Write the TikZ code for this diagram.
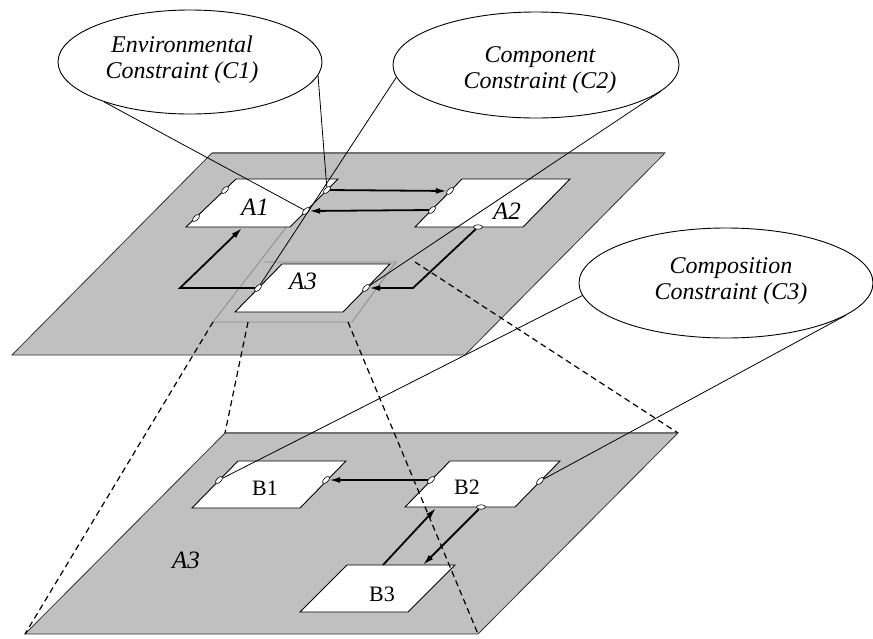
\documentclass[tikz,border=0pt]{standalone}
\usepackage{fontspec}
\setmainfont{Liberation Serif}
\usetikzlibrary{shapes.geometric,arrows.meta}
\definecolor{planegray}{RGB}{192,192,192}
\begin{document}
\begin{tikzpicture}[x=1pt,y=-1pt,
  planeline/.style={draw=black!80,line width=0.8pt},
  pedge/.style={draw=black!55,line width=2.5pt},
  cbox/.style={fill=white,draw=black,line width=0.9pt},
  port/.style={ellipse,draw=black,fill=white,line width=0.6pt,minimum width=9pt,minimum height=4.5pt,inner sep=0pt,rotate=45},
  hport/.style={ellipse,draw=black,fill=white,line width=0.6pt,minimum width=9pt,minimum height=4.5pt,inner sep=0pt},
  flow/.style={line width=1.8pt,-{Latex[length=11pt,width=6pt]}},
  link/.style={line width=0.8pt},
  hid/.style={dash pattern=on 6pt off 4pt,line width=1.2pt},
  cloud/.style={ellipse,draw=black,fill=white,line width=0.9pt,inner sep=0pt},
  ctext/.style={font=\fontsize{24}{26}\selectfont\itshape,align=center,inner sep=0pt},
  alab/.style={font=\fontsize{25}{25}\selectfont\itshape,inner sep=0pt},
  blab/.style={font=\fontsize{22}{22}\selectfont,inner sep=0pt}
]
\useasboundingbox (0,0) rectangle (873,638);
\fill[white] (0,0) rectangle (873,638);

% top plane
\coordinate (TP1) at (212,153); \coordinate (TP2) at (665,153);
\coordinate (TP3) at (465,355); \coordinate (TP4) at (12,355);
\fill[planegray] (TP1)--(TP2)--(TP3)--(TP4)--cycle;
\draw[planeline] (TP1)--(TP2)--(TP3)--(TP4)--cycle;
\draw[pedge] (TP1)--(TP2);

% bottom plane
\coordinate (BP1) at (225,433); \coordinate (BP2) at (678,433);
\coordinate (BP3) at (478,634); \coordinate (BP4) at (25,634);
\fill[planegray] (BP1)--(BP2)--(BP3)--(BP4)--cycle;
\draw[planeline] (BP1)--(BP2)--(BP3)--(BP4)--cycle;
\draw[pedge] (BP1)--(BP2);

% outline of A3 (projection frame)
\coordinate (O1) at (264,262); \coordinate (O2) at (396,262);
\coordinate (O3) at (352,322); \coordinate (O4) at (213,322);
\coordinate (O0) at (298,212);
\draw[black!45,line width=0.8pt] (O0)--(O4)--(O3)--(O2)--(O1);

% boxes
\draw[cbox] (236,179)--(338,179)--(290,227)--(186,227)--cycle;
\draw[cbox] (462,179)--(570,179)--(523,227)--(415,227)--cycle;
\draw[cbox] (282,264)--(390,264)--(343,312)--(235,312)--cycle;
\draw[cbox] (238,461)--(346,461)--(300,508)--(192,508)--cycle;
\draw[cbox] (450,461)--(560,461)--(515,507)--(405,507)--cycle;
\draw[cbox] (347,565)--(455,565)--(408,612)--(300,612)--cycle;

% labels
\node[alab] (la1) at (255,207) {A1};
\node[alab] (la2) at (507,211) {A2};
\node[alab] (la3) at (303,281) {A3};
\node[alab] (la3b) at (186,560) {A3};
\node[blab] (lb1) at (265,488) {B1};
\node[blab] (lb2) at (467,487) {B2};
\node[blab] (lb3) at (382,594) {B3};

% ports
\node[port] (pa1l1) at (225,190) {};
\node[port] (pa1l2) at (196,218) {};
\node[port] (pa1r1) at (327,190) {};
\node[port] (pa1r2) at (306,211) {};
\node[port] (pa2l1) at (450,191) {};
\node[port] (pa2l2) at (432,210) {};
\node[hport] (pa2b) at (478,227) {};
\node[port] (pa3l) at (258,288) {};
\node[port] (pa3r) at (366,288) {};
\node[port] (pb1l) at (219,480) {};
\node[port] (pb1r) at (326,480) {};
\node[port] (pb2l) at (431,480) {};
\node[port] (pb2r) at (540,481) {};
\node[hport] (pb2b) at (481,507) {};

\coordinate (a1b) at (242,228);
\coordinate (k3) at (180,288);
\coordinate (k4) at (413,288);
\coordinate (b2b) at (436,508);
\coordinate (b3a) at (383,565);
\coordinate (b3b) at (423,565);

% flows
\draw[flow] (pa1r1) -- (pa2l1);
\draw[flow] (pa2l2) -- (pa1r2);
\draw[flow] (pa3l) -- (k3) -- (a1b);
\draw[flow] (pa2b) -- (k4) -- (pa3r);
\draw[flow] (pb2l) -- (pb1r);
\draw[flow] (b3a) -- (b2b);
\draw[flow] (pb2b) -- (b3b);

% constraint ellipses
\node[cloud,minimum width=264pt,minimum height=104pt] (C1) at (190,62) {};
\node[ctext] (t1) at (182,60) {Environmental\\Constraint (C1)};
\node[cloud,minimum width=286pt,minimum height=106pt] (C2) at (536,65) {};
\node[ctext] (t2) at (540,70) {Component\\Constraint (C2)};
\node[cloud,minimum width=294pt,minimum height=110pt] (C3) at (726,283) {};
\node[ctext] (t3) at (731,281) {Composition\\Constraint (C3)};

% connectors
\draw[link] (C1.205) -- (pa1r2);
\draw[link] (C1.-6) -- (pa1r1);
\draw[link] (C2.185) -- (pa3l);
\draw[link] (C2.-12) -- (pa3r);
\draw[link] (C3.185) -- (pb1l);
\draw[link] (C3.-15) -- (pb2r);

% dashed projection lines
\coordinate (d2) at (248,322);
\coordinate (d3) at (348,322);
\coordinate (d4) at (415,262);
\draw[hid] (O4) -- (BP4);
\draw[hid] (d2) -- (BP1);
\draw[hid] (d3) -- (BP3);
\draw[hid] (d4) -- (BP2);
\end{tikzpicture}
\end{document}
